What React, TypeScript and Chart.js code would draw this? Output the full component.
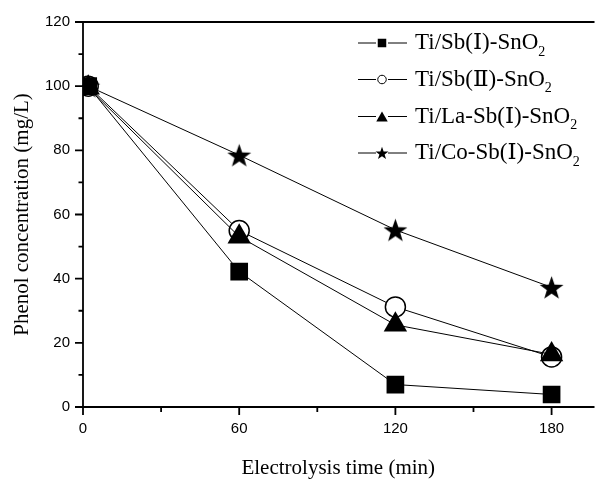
import { useEffect, useRef } from "react";
import { Chart, registerables } from "chart.js";

Chart.register(...registerables);

// ---- data ----
const times = [2, 60, 120, 180];
const seriesLabels = ["Ti/Sb(Ⅰ)-SnO2", "Ti/Sb(Ⅱ)-SnO2", "Ti/La-Sb(Ⅰ)-SnO2", "Ti/Co-Sb(Ⅰ)-SnO2"];
const sbI = [100, 42.2, 7.0, 3.9];
const sbII = [100, 55.0, 31.2, 15.6];
const laSbI = [99.5, 53.1, 25.6, 16.4];
const coSbI = [100, 78.5, 55.2, 37.3];
const xTicks = [0, 60, 120, 180];
const xMinorTicks = [30, 90, 150];
const yTicks = [0, 20, 40, 60, 80, 100, 120];
const yMinorTicks = [10, 30, 50, 70, 90, 110];
const xTitle = "Electrolysis time (min)";
const yTitle = "Phenol concentration (mg/L)";

const W = 607;
const H = 479;

function starPath(ctx: CanvasRenderingContext2D, cx: number, cy: number, R: number, r: number) {
  ctx.beginPath();
  for (let i = 0; i < 10; i++) {
    const ang = -Math.PI / 2 + (i * Math.PI) / 5;
    const rad = i % 2 === 0 ? R : r;
    const x = cx + Math.cos(ang) * rad;
    const y = cy + Math.sin(ang) * rad;
    if (i === 0) ctx.moveTo(x, y);
    else ctx.lineTo(x, y);
  }
  ctx.closePath();
}

function makeStar(size: number): HTMLCanvasElement {
  const c = document.createElement("canvas");
  c.width = size;
  c.height = size;
  const ctx = c.getContext("2d")!;
  ctx.fillStyle = "#000";
  starPath(ctx, size / 2, size / 2 + size * 0.05, size / 2, size * 0.2);
  ctx.fill();
  return c;
}

function drawMarker(ctx: CanvasRenderingContext2D, kind: number, x: number, y: number, s: number) {
  ctx.save();
  ctx.fillStyle = "#000";
  ctx.strokeStyle = "#000";
  ctx.lineWidth = 1;
  if (kind === 0) {
    ctx.fillRect(x - s / 2, y - s / 2, s, s);
  } else if (kind === 1) {
    ctx.beginPath();
    ctx.arc(x, y, s / 2, 0, Math.PI * 2);
    ctx.fillStyle = "#fff";
    ctx.fill();
    ctx.stroke();
  } else if (kind === 2) {
    const w = s * 1.15;
    ctx.beginPath();
    ctx.moveTo(x, y - s / 2);
    ctx.lineTo(x + w / 2, y + s / 2);
    ctx.lineTo(x - w / 2, y + s / 2);
    ctx.closePath();
    ctx.fill();
  } else {
    starPath(ctx, x, y + 0.6, s * 0.62, s * 0.25);
    ctx.fill();
  }
  ctx.restore();
}

const axesPlugin = {
  id: "axesPlugin",
  beforeDatasetsDraw(chart: any) {
    const ctx = chart.ctx as CanvasRenderingContext2D;
    const { left, right, top, bottom } = chart.chartArea;
    const xs = chart.scales.x;
    const ys = chart.scales.y;
    ctx.save();
    ctx.strokeStyle = "#000";
    ctx.lineWidth = 1.8;
    ctx.beginPath();
    ctx.moveTo(left, top);
    ctx.lineTo(left, bottom);
    ctx.moveTo(left, bottom);
    ctx.lineTo(right + 1, bottom);
    ctx.moveTo(left, top);
    ctx.lineTo(right + 1, top);
    for (const v of yTicks) {
      const y = ys.getPixelForValue(v);
      ctx.moveTo(left - 8, y);
      ctx.lineTo(left, y);
    }
    for (const v of yMinorTicks) {
      const y = ys.getPixelForValue(v);
      ctx.moveTo(left - 4.5, y);
      ctx.lineTo(left, y);
    }
    for (const v of xTicks) {
      const x = xs.getPixelForValue(v);
      ctx.moveTo(x, bottom);
      ctx.lineTo(x, bottom + 8);
    }
    for (const v of xMinorTicks) {
      const x = xs.getPixelForValue(v);
      ctx.moveTo(x, bottom);
      ctx.lineTo(x, bottom + 5);
    }
    ctx.stroke();
    ctx.restore();
  },
};

const legendPlugin = {
  id: "customLegend",
  afterDraw(chart: any) {
    const ctx = chart.ctx as CanvasRenderingContext2D;
    const rows = [43, 79.5, 116.5, 153];
    const sizes = [8.5, 8.5, 10, 11];
    ctx.save();
    seriesLabels.forEach((label, i) => {
      const y = rows[i];
      ctx.strokeStyle = "#000";
      ctx.lineWidth = 1;
      ctx.beginPath();
      ctx.moveTo(358, y);
      ctx.lineTo(376, y);
      ctx.moveTo(388, y);
      ctx.lineTo(407, y);
      ctx.stroke();
      drawMarker(ctx, i, 382, y, sizes[i]);
      const base = label.slice(0, -1);
      const sub = label.slice(-1);
      ctx.fillStyle = "#000";
      ctx.textBaseline = "middle";
      ctx.textAlign = "left";
      ctx.font = '23px "Liberation Serif", "DejaVu Serif"';
      ctx.fillText(base, 415, y);
      const w = ctx.measureText(base).width;
      ctx.font = '14px "Liberation Serif", "DejaVu Serif"';
      ctx.fillText(sub, 415 + w, y + 9);
    });
    ctx.restore();
  },
};

export default function App() {
  const ref = useRef<HTMLCanvasElement | null>(null);

  useEffect(() => {
    document.body.style.margin = "0";
    const canvas = ref.current;
    if (!canvas) return;
    const star = makeStar(25);
    const mk = (data: number[]) => times.map((t, i) => ({ x: t, y: data[i] }));
    const chart = new Chart(canvas, {
      type: "line",
      data: {
        datasets: [
          {
            label: seriesLabels[0],
            data: mk(sbI),
            order: 0,
            borderColor: "#000",
            borderWidth: 1,
            pointStyle: "rect",
            pointRadius: 12.5,
            pointBackgroundColor: "#000",
            pointBorderColor: "#000",
            pointBorderWidth: 0,
          },
          {
            label: seriesLabels[1],
            data: mk(sbII),
            order: 2,
            borderColor: "#000",
            borderWidth: 1,
            pointStyle: "circle",
            pointRadius: 10,
            pointBackgroundColor: "#fff",
            pointBorderColor: "#000",
            pointBorderWidth: 1.5,
          },
          {
            label: seriesLabels[2],
            data: mk(laSbI),
            order: 1,
            borderColor: "#000",
            borderWidth: 1,
            pointStyle: "triangle",
            pointRadius: 13.5,
            pointBackgroundColor: "#000",
            pointBorderColor: "#000",
            pointBorderWidth: 0,
          },
          {
            label: seriesLabels[3],
            data: mk(coSbI),
            order: 3,
            borderColor: "#000",
            borderWidth: 1,
            pointStyle: star as any,
            pointRadius: 12,
            pointBackgroundColor: "#000",
            pointBorderColor: "#000",
          },
        ],
      },
      options: {
        responsive: false,
        animation: false,
        devicePixelRatio: 1,
        layout: { padding: { left: 0, right: 1, top: 15, bottom: 0 } },
        plugins: { legend: { display: false }, tooltip: { enabled: false } },
        events: [],
        scales: {
          x: {
            type: "linear",
            min: 0,
            max: 196.1,
            afterFit: (s: any) => {
              s.height = 72;
            },
            afterBuildTicks: (s: any) => {
              s.ticks = xTicks.map((v) => ({ value: v }));
            },
            grid: { display: false, drawTicks: false },
            border: { display: false },
            ticks: {
              color: "#000",
              padding: 13,
              font: { family: '"Liberation Sans"', size: 15 },
              callback: (v: any) => String(v),
            },
            title: {
              display: true,
              text: xTitle,
              color: "#000",
              font: { family: '"Liberation Serif"', size: 21, lineHeight: 1 },
              padding: { top: 0, bottom: 0 },
            },
          },
          y: {
            type: "linear",
            min: 0,
            max: 120,
            afterFit: (s: any) => {
              s.width = 83;
            },
            afterBuildTicks: (s: any) => {
              s.ticks = yTicks.map((v) => ({ value: v }));
            },
            grid: { display: false, drawTicks: false },
            border: { display: false },
            ticks: {
              color: "#000",
              padding: 13,
              font: { family: '"Liberation Sans"', size: 15 },
              callback: (v: any) => String(v),
            },
            title: {
              display: true,
              text: yTitle,
              color: "#000",
              font: { family: '"Liberation Serif"', size: 21, lineHeight: 1 },
              padding: { top: 12, bottom: 0 },
            },
          },
        },
      },
      plugins: [axesPlugin, legendPlugin],
    });
    return () => chart.destroy();
  }, []);

  return (
    <div style={{ width: W, height: H }}>
      <canvas ref={ref} width={W} height={H} style={{ display: "block" }} />
    </div>
  );
}
